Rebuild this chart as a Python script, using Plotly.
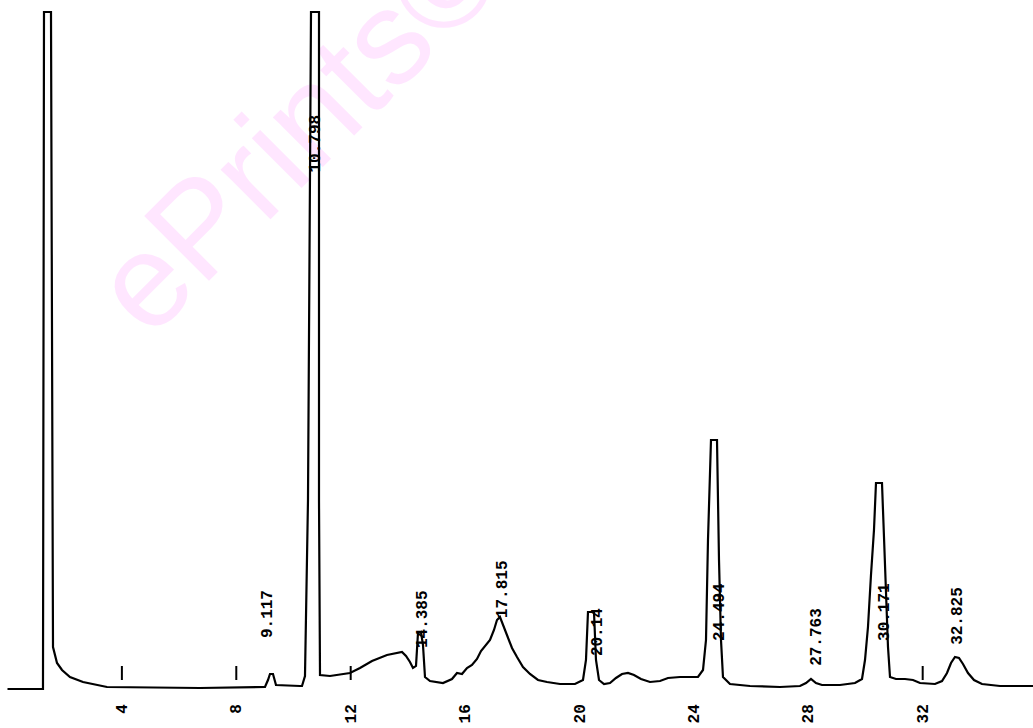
import plotly.graph_objects as go

# Chromatogram trace: retention time (min) and detector signal (arbitrary units)
time_min = [0.00, 1.206, 1.241, 1.276, 1.521, 1.591, 1.731, 1.906, 2.185, 2.640, 3.479, 6.731,
            9.003, 9.108, 9.178, 9.283, 9.388, 10.227, 10.297, 10.402, 10.507, 10.612, 10.892,
            10.892, 10.927, 11.276, 11.976, 12.325, 12.745, 13.269, 13.549, 13.794, 13.934,
            14.073, 14.178, 14.283, 14.353, 14.458, 14.528, 14.598, 14.773, 15.227, 15.542,
            15.717, 15.892, 16.066, 16.241, 16.416, 16.556, 16.696, 16.871, 17.010, 17.115,
            17.220, 17.325, 17.465, 17.640, 17.815, 18.024, 18.269, 18.549, 18.864, 19.318,
            19.843, 20.122, 20.227, 20.297, 20.507, 20.577, 20.682, 20.857, 21.066, 21.276,
            21.486, 21.696, 21.906, 22.150, 22.465, 22.815, 23.094, 23.514, 24.143, 24.318,
            24.423, 24.493, 24.598, 24.808, 24.878, 24.948, 25.017, 25.262, 25.962, 27.010,
            27.710, 27.920, 28.094, 28.269, 28.479, 29.108, 29.633, 29.878, 29.983, 30.087,
            30.192, 30.297, 30.367, 30.577, 30.647, 30.717, 30.787, 30.857, 31.066, 31.381,
            31.661, 31.906, 32.430, 32.675, 32.850, 32.990, 33.129, 33.269, 33.409, 33.584,
            33.794, 34.073, 34.703, 35.857]
signal = [-3, -3, -3, 674, 674, 39, 23, 16, 9, 4, -1, -2,
          -1, 6, 12, 12, 1, 0, 0, 10, 186, 674, 674,
          186, 11, 10, 13, 18, 25, 31, 33, 34, 30,
          24, 18, 20, 53, 54, 41, 9, 5, 3, 7,
          13, 12, 18, 21, 27, 35, 40, 46, 56, 66,
          69, 61, 50, 38, 29, 19, 12, 6, 4, 2,
          2, 6, 26, 74, 74, 26, 6, 2, 3, 8,
          12, 13, 11, 7, 4, 5, 8, 9, 9, 16,
          46, 146, 246, 246, 126, 46, 9, 2, 0, -1,
          0, 3, 7, 3, 1, 1, 3, 7, 26, 59,
          111, 156, 203, 203, 149, 86, 39, 9, 7, 7,
          6, 3, 2, 5, 13, 23, 29, 28, 22, 13,
          6, 2, 0, 0]

# Integrator peak labels
label_times = [9.11, 10.77, 14.53, 17.33, 20.65, 24.91, 28.30, 30.68, 33.23]
label_texts = ["9.117", "10.798", "14.385", "17.815", "20.14", "24.494", "27.763", "30.171", "32.825"]
label_base = [46, 511, 36, 66, 28, 43, 18, 43, 39]

# Axis ticks
tick_vals = [4, 8, 12, 16, 20, 24, 28, 32]
tick_text = ["4", "8", "12", "16", "20", "24", "28", "32"]
mark_times = [4, 8, 12, 32]

fig = go.Figure()

fig.add_trace(go.Scatter(
    x=mark_times, y=[13] * len(mark_times), mode="markers",
    marker=dict(symbol="line-ns", size=10, line=dict(width=2, color="black")),
    hoverinfo="skip"))

fig.add_trace(go.Scatter(
    x=time_min, y=signal, mode="lines",
    line=dict(color="black", width=2.2), hoverinfo="skip"))

for t, txt, b in zip(label_times, label_texts, label_base):
    fig.add_annotation(x=t, y=b, text=txt, showarrow=False, textangle=-90,
                       xanchor="center", yanchor="bottom",
                       font=dict(family="Liberation Mono", size=16, color="black", weight="bold"))

# watermark
fig.add_shape(type="rect", xref="paper", yref="paper",
              x0=0.229, x1=0.329, y0=0.779, y1=0.879,
              line=dict(width=0), fillcolor="rgba(0,0,0,0)", layer="below",
              label=dict(text="ePrints©", textposition="middle center", textangle=-45,
                         font=dict(family="Liberation Sans", size=133, color="#ffe6ff")))

fig.update_layout(
    width=1033, height=728,
    margin=dict(l=0, r=0, t=0, b=38),
    paper_bgcolor="white", plot_bgcolor="white",
    showlegend=False,
    xaxis=dict(range=[-0.262, 35.857], tickvals=tick_vals, ticktext=tick_text,
               tickangle=-90, ticks="", showgrid=False, zeroline=False, showline=False,
               ticklabelstandoff=10,
               tickfont=dict(family="Liberation Mono", size=16, color="black", weight="bold")),
    yaxis=dict(range=[-4, 686], visible=False, showgrid=False, zeroline=False),
)

fig.write_html("out.html", config={"displayModeBar": False},
               post_script="document.body.style.margin='0';document.body.style.overflow='hidden';")
